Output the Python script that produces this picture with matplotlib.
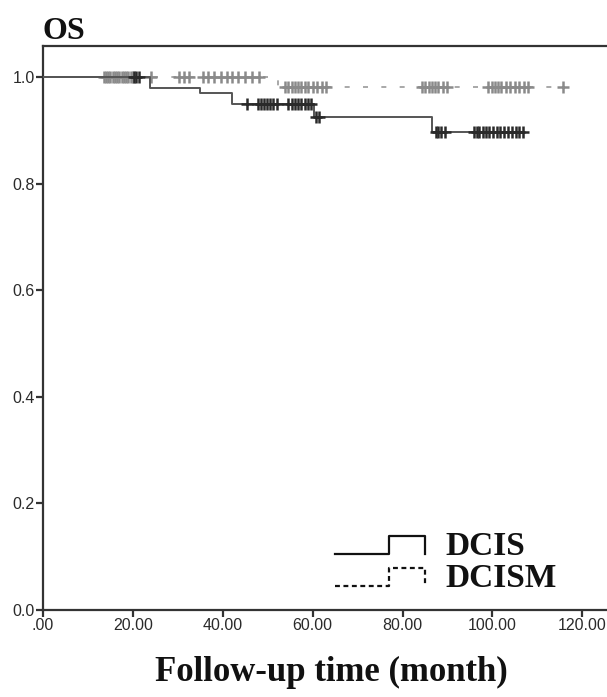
import numpy as np
import matplotlib
matplotlib.use("Agg")
import matplotlib.pyplot as plt
from matplotlib.lines import Line2D
from matplotlib.legend_handler import HandlerBase

# ---------------- data ----------------
groups = ["DCIS", "DCISM"]

dcis_event_times = [0.0, 23.8, 35.0, 42.0, 60.4, 86.6, 106.9]
dcis_survival = [1.000, 0.980, 0.969, 0.950, 0.924, 0.896, 0.896]
dcis_censor_times = [20.3, 20.8, 21.3,
                     45.4, 47.9, 48.5, 49.2, 49.8, 50.5, 51.2, 52.0,
                     54.6, 55.3, 56.0, 56.8, 57.5, 58.3, 59.0, 59.6,
                     60.8, 61.5,
                     87.4, 88.0, 88.6, 89.4,
                     95.9, 96.5, 97.1, 97.8, 98.5, 99.3, 100.1, 101.0, 101.8,
                     102.6, 103.5, 104.3, 105.2, 106.0, 106.9]

dcism_event_times = [0.0, 52.3, 115.8]
dcism_survival = [1.000, 0.982, 0.982]
dcism_censor_times = [13.5, 14.0, 14.5, 15.0, 15.5, 16.0, 16.5, 17.0, 17.5, 18.0,
                      18.5, 19.0, 19.5, 20.0, 24.0,
                      30.2, 31.3, 32.5, 35.7, 36.8, 38.0, 39.5, 41.0, 42.0,
                      43.5, 45.0, 46.5, 48.0,
                      53.8, 54.5, 55.3, 56.0, 56.8, 57.5, 58.3, 59.0, 60.0,
                      61.0, 62.0, 63.0,
                      84.3, 85.0, 85.8, 86.5, 87.3, 88.0, 89.0, 90.0,
                      99.0, 99.8, 100.5, 101.3, 102.0, 103.0, 104.0, 105.0,
                      106.0, 107.0, 108.0, 115.8]

x_ticks = [0, 20, 40, 60, 80, 100, 120]
x_tick_labels = [".00", "20.00", "40.00", "60.00", "80.00", "100.00", "120.00"]
y_ticks = [0.0, 0.2, 0.4, 0.6, 0.8, 1.0]
y_tick_labels = ["0.0", "0.2", "0.4", "0.6", "0.8", "1.0"]

title_text = "OS"
x_label = "Follow-up time (month)"

# ---------------- styling ----------------
SERIF = ["Liberation Serif", "DejaVu Serif"]
SANS = ["Liberation Sans", "DejaVu Sans"]
plt.rcParams["font.family"] = SANS

W, H = 607, 697
fig = plt.figure(figsize=(W / 100, H / 100), dpi=100)
ax_left, ax_right = 43 / W, 1.0
ax_bottom, ax_top = (H - 610) / H, (H - 46) / H
ax = fig.add_axes([ax_left, ax_bottom, ax_right - ax_left, ax_top - ax_bottom])

ax.set_xlim(0, 125.5)
ax.set_ylim(0, 1.058)


def surv_at(times, ev_t, ev_s):
    idx = np.searchsorted(ev_t, times, side="right") - 1
    return np.asarray(ev_s)[idx]


# DCISM (dashed grey)
ax.step(dcism_event_times, dcism_survival, where="post", color="#9a9a9a",
        lw=1.2, linestyle=(0, (3, 8)), zorder=2)
ax.plot(dcism_censor_times,
        surv_at(dcism_censor_times, dcism_event_times, dcism_survival),
        linestyle="none", marker="+", markersize=8, mew=1.8,
        color="#8a8a8a", zorder=3)

# DCIS (solid dark)
ax.step(dcis_event_times, dcis_survival, where="post", color="#555555",
        lw=1.4, zorder=4)
ax.plot(dcis_censor_times,
        surv_at(dcis_censor_times, dcis_event_times, dcis_survival),
        linestyle="none", marker="+", markersize=8, mew=1.8,
        color="#2a2a2a", zorder=5)

# shared solid segment at 1.0 before the first censor cluster
ax.plot([0, 13.5], [1.0, 1.0], color="#777777", lw=1.4, zorder=1)

# axes styling
ax.spines["right"].set_visible(False)
for s in ["left", "bottom", "top"]:
    ax.spines[s].set_color("#333333")
    ax.spines[s].set_linewidth(1.6)

ax.set_xticks(x_ticks)
ax.set_xticklabels(x_tick_labels)
ax.set_yticks(y_ticks)
ax.set_yticklabels(y_tick_labels)
ax.tick_params(axis="both", direction="out", length=5, width=1.6,
               color="#333333", labelsize=11.5, labelcolor="#2a2a2a", pad=1)

# title & x label
fig.text(ax_left, (H - 39) / H, title_text, fontsize=23, fontweight="bold",
         family=SERIF, ha="left", va="baseline", color="#111111")
fig.text(331 / W, (H - 672) / H, x_label, fontsize=25, fontweight="bold",
         family=SERIF, ha="center", va="center", color="#111111")


# legend with step-shaped handles
class StepHandler(HandlerBase):
    def __init__(self, dashed):
        super().__init__()
        self.dashed = dashed

    def create_artists(self, legend, orig_handle, xdescent, ydescent,
                       width, height, fontsize, trans):
        x0 = -xdescent
        y0 = -ydescent
        xs = [x0, x0 + 0.6 * width, x0 + 0.6 * width, x0 + width, x0 + width]
        ys = [y0 + 0.1 * height, y0 + 0.1 * height, y0 + 0.8 * height,
              y0 + 0.8 * height, y0 + 0.1 * height]
        ln = Line2D(xs, ys, color="#111111", lw=1.6,
                    linestyle=(0, (2.2, 1.6)) if self.dashed else "-",
                    transform=trans)
        return [ln]


h1 = Line2D([], [], color="k")
h2 = Line2D([], [], color="k", linestyle="--")
leg = fig.legend([h1, h2], groups, loc="lower left",
                 bbox_to_anchor=(335 / W, (H - 594) / H),
                 frameon=False, handler_map={h1: StepHandler(False),
                                             h2: StepHandler(True)},
                 prop={"family": SERIF, "weight": "bold", "size": 24},
                 handlelength=2.7, handleheight=0.8, handletextpad=0.6,
                 labelspacing=0.02, borderpad=0, borderaxespad=0)
for t in leg.get_texts():
    t.set_color("#111111")

fig.savefig("out.png", dpi=100)
